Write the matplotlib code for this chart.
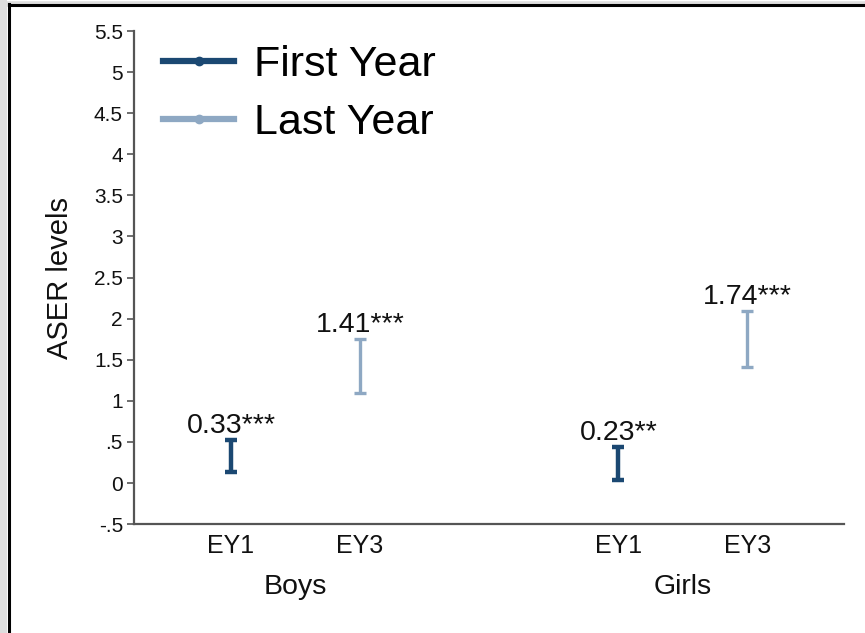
import matplotlib
matplotlib.use("Agg")
import matplotlib.pyplot as plt
from matplotlib.lines import Line2D

plt.rcParams['font.family'] = ['Liberation Sans', 'DejaVu Sans']

# ---- data ----
groups = ['Boys', 'Girls']
waves = ['EY1', 'EY3']
series = ['First Year', 'Last Year']
estimates = [[0.33, 0.23], [1.41, 1.74]]   # [series][group]
ci_low = [[0.13, 0.04], [1.09, 1.41]]
ci_high = [[0.52, 0.44], [1.75, 2.09]]
stars = [['***', '**'], ['***', '***']]
yticks = [-0.5, 0, 0.5, 1, 1.5, 2, 2.5, 3, 3.5, 4, 4.5, 5, 5.5]
ytick_labels = ['-.5', '0', '.5', '1', '1.5', '2', '2.5', '3', '3.5', '4', '4.5', '5', '5.5']

colors = ['#1b4872', '#8ea8c3']
widths = [3.2, 2.4]
axis_grey = '#555555'
ink = '#111111'

fig = plt.figure(figsize=(8.65, 6.33), dpi=100)
ax = fig.add_axes([0.155, 0.172, 0.821, 0.779])

xpos = []
xlab = []
for s in range(len(series)):
    for g in range(len(groups)):
        x = 1 + g * 3 + s
        est = estimates[s][g]
        lo = est - ci_low[s][g]
        hi = ci_high[s][g] - est
        ax.errorbar(x, est, yerr=[[lo], [hi]], fmt='none', ecolor=colors[s],
                    elinewidth=widths[s], capsize=4, capthick=widths[s])
        ax.annotate(f'{est:.2f}{stars[s][g]}', xy=(x, ci_high[s][g]),
                    xytext=(0, 5), textcoords='offset points',
                    ha='center', va='baseline', fontsize=20.5, color=ink)

for g in range(len(groups)):
    for s in range(len(waves)):
        xpos.append(1 + g * 3 + s)
        xlab.append(waves[s])
    ax.text(1.5 + g * 3, -0.128, groups[g], transform=ax.get_xaxis_transform(),
            ha='center', va='center', fontsize=20.5, color=ink)

ax.set_xlim(0.25, 5.75)
ax.set_ylim(-0.5, 5.5)
ax.set_xticks(xpos)
ax.set_xticklabels(xlab, fontsize=18, color=ink)
ax.set_yticks(yticks)
ax.set_yticklabels(ytick_labels, fontsize=15, color=ink)
ax.tick_params(axis='x', length=0, pad=7)
ax.tick_params(axis='y', length=5, width=1.2, color=axis_grey, pad=3)

for side in ['top', 'right']:
    ax.spines[side].set_visible(False)
for side in ['left', 'bottom']:
    ax.spines[side].set_color(axis_grey)
    ax.spines[side].set_linewidth(1.6)

ax.set_ylabel('ASER levels', fontsize=21, color=ink)
ax.yaxis.set_label_coords(-0.084, 0.5)

handles = [Line2D([], [], color=c, lw=4.5, marker='o', markersize=6) for c in colors]
ax.legend(handles, series, loc='upper left', bbox_to_anchor=(0.041, 0.971),
          frameon=False, fontsize=31, handlelength=1.65, handletextpad=0.45,
          labelspacing=0.42, borderpad=0, borderaxespad=0)

# page frame: black rule on top and left
fig.add_artist(Line2D([0.0, 1.0], [0.9935, 0.9935], color='#dddddd', lw=4,
                      transform=fig.transFigure))
fig.add_artist(Line2D([0.004, 0.004], [0.0, 1.0], color='#dddddd', lw=5,
                      transform=fig.transFigure))
fig.add_artist(Line2D([0.0105, 1.0], [0.9925, 0.9925], color='black', lw=2.2,
                      transform=fig.transFigure))
fig.add_artist(Line2D([0.0105, 0.0105], [0.0, 0.9935], color='black', lw=2.2,
                      transform=fig.transFigure))

fig.savefig('out.png', dpi=100)
